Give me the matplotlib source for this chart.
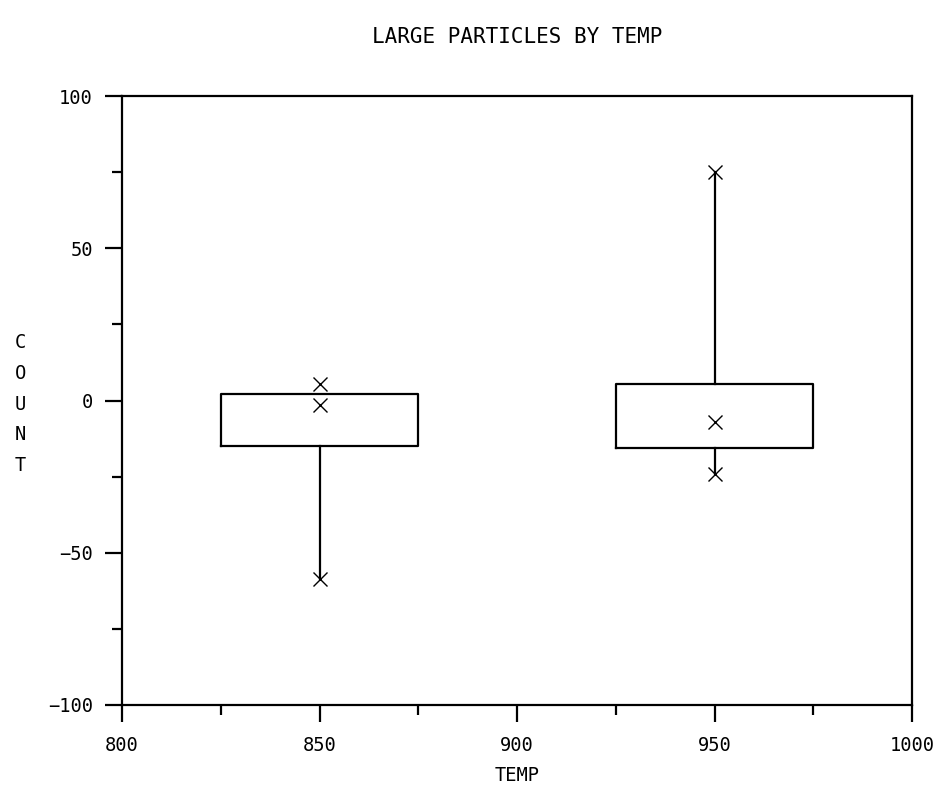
import matplotlib
matplotlib.use("Agg")
import matplotlib.pyplot as plt
from matplotlib.ticker import MultipleLocator

plt.rcParams['font.family'] = ['DejaVu Sans Mono']

# Data
temps = [850, 950]
box_q3 = [2.2, 5.3]
box_q1 = [-15.1, -15.7]
whisker_hi = [2.2, 75.0]
whisker_lo = [-58.7, -24.1]
points_850 = [5.5, -1.6, -58.7]
points_950 = [75.0, -7.1, -24.1]
box_width = 50

title = "LARGE PARTICLES BY TEMP"
xlabel = "TEMP"
ylabel = "COUNT"

fig = plt.figure(figsize=(9.46, 7.94), dpi=100)
ax = fig.add_axes([122/946, 1-705/794, (912-122)/946, (705-96)/794])

stats = []
for t, q1, q3, lo, hi in zip(temps, box_q1, box_q3, whisker_lo, whisker_hi):
    stats.append(dict(med=q1, q1=q1, q3=q3, whislo=lo, whishi=hi, fliers=[]))

ax.bxp(stats, positions=temps, widths=box_width, showcaps=False, showfliers=False,
       boxprops=dict(color='black', linewidth=1.6),
       whiskerprops=dict(color='black', linewidth=1.6),
       medianprops=dict(linewidth=0), manage_ticks=False)

for t, pts in zip(temps, [points_850, points_950]):
    ax.plot([t]*len(pts), pts, linestyle='none', marker='x', color='black',
            markersize=10, markeredgewidth=1.0)

ax.set_xlim(800, 1000)
ax.set_ylim(-100, 100)
ax.xaxis.set_major_locator(MultipleLocator(50))
ax.xaxis.set_minor_locator(MultipleLocator(25))
ax.yaxis.set_major_locator(MultipleLocator(50))
ax.yaxis.set_minor_locator(MultipleLocator(25))

for s in ax.spines.values():
    s.set_linewidth(1.6)

ax.tick_params(axis='both', which='major', direction='out', length=12, width=1.6,
               labelsize=13.5)
ax.tick_params(axis='both', which='minor', direction='out', length=7, width=1.6)
ax.tick_params(axis='x', which='major', pad=10)
ax.tick_params(axis='y', which='major', pad=9)

ax.set_xlabel(xlabel, fontsize=13.5, labelpad=8)
fig.text(20/946, 1-404/794, "\n".join(ylabel), fontsize=13.5, ha='center', va='center',
         linespacing=1.78)
fig.text(517/946, 1-37/794, title, fontsize=15, ha='center', va='center')

fig.savefig("out.png", dpi=100)
